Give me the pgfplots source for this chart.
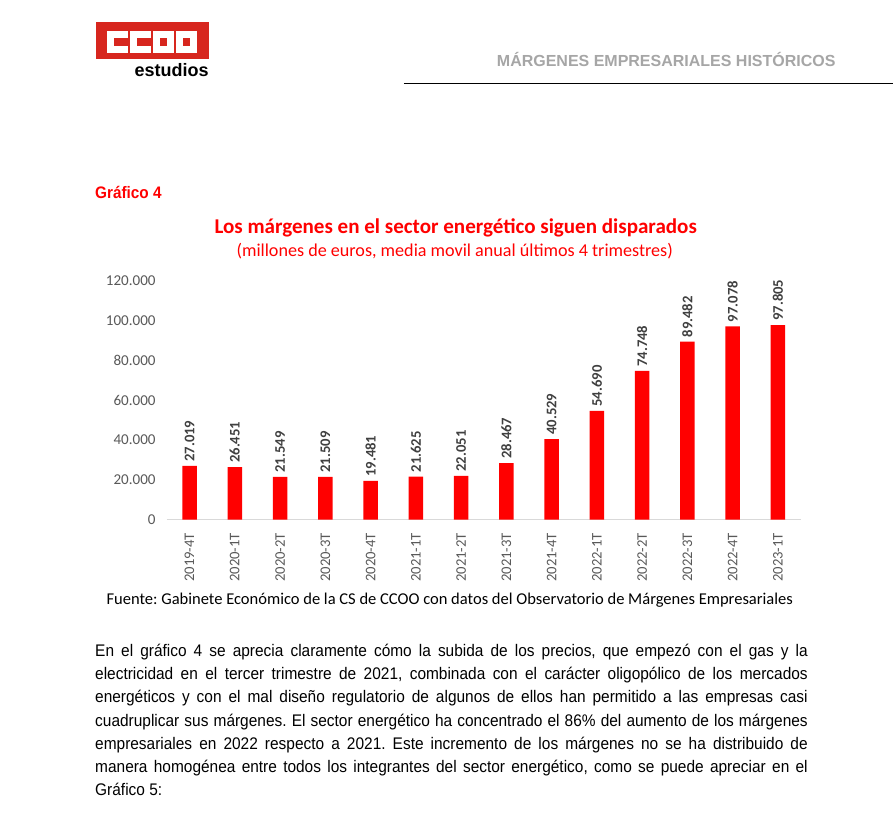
\documentclass[border=0pt]{standalone}
\usepackage{fontspec}
\setmainfont{Carlito}
\newfontfamily\arial{Liberation Sans}
\newfontfamily\arialn{Liberation Sans}[FakeStretch=0.92]
\usepackage{pgfplots}
\pgfplotsset{compat=1.18}
\frenchspacing
\definecolor{barred}{RGB}{255,0,0}
\definecolor{logored}{RGB}{215,38,30}
\definecolor{hdrgray}{RGB}{166,166,166}
\definecolor{tickgray}{RGB}{89,89,89}
\definecolor{lblgray}{RGB}{64,64,64}
\definecolor{axgray}{RGB}{217,217,217}
\newcommand{\pline}[2]{\node[anchor=base west, inner sep=0pt] at (95,#1) {\makebox[534.75pt][s]{#2}};}
\begin{document}
\begin{tikzpicture}
\begin{scope}[x=0.75pt,y=-0.75pt]
\fill[white] (0,0) rectangle (894,813);
% logo
\fill[logored] (96,22) rectangle (209,59);
\foreach \xo in {107,130}{
  \fill[white] (\xo,31) rectangle (\xo+21,53);
  \fill[logored] (\xo+7,38) rectangle (\xo+21,46);
}
\foreach \xo in {153,176}{
  \fill[white] (\xo,31) rectangle (\xo+21,53);
  \fill[logored] (\xo+7,38) rectangle (\xo+14,46);
}
\node[anchor=base east, inner sep=0pt, font=\arial\bfseries\fontsize{13.5}{16}\selectfont] at (209,77) {estudios};
% header
\node[anchor=base west, inner sep=0pt, text=hdrgray, font=\arial\bfseries\fontsize{12}{14}\selectfont] at (497,67) {MÁRGENES EMPRESARIALES HISTÓRICOS};
\draw[black, line width=0.8pt] (404,84) -- (894,84);
% chart captions
\node[anchor=base west, inner sep=0pt, text=red, font=\arialn\bfseries\fontsize{12.5}{15}\selectfont] at (95,199) {Gráfico 4};
\node[text=red, inner sep=0pt, font=\bfseries\fontsize{15.8}{19}\selectfont] at (456,228) {Los márgenes en el sector energético siguen disparados};
\node[text=red, inner sep=0pt, font=\fontsize{13.6}{16}\selectfont] at (455,251) {(millones de euros, media movil anual últimos 4 trimestres)};
\node[text=black, inner sep=0pt, font=\fontsize{12.4}{15}\selectfont] at (450,601) {Fuente: Gabinete Económico de la CS de CCOO con datos del Observatorio de Márgenes Empresariales};
% paragraph
\begingroup
\arialn\fontsize{12.6}{15}\selectfont
\pline{657}{En el gráfico 4 se aprecia claramente cómo la subida de los precios, que empezó con el gas y la}
\pline{680.2}{electricidad en el tercer trimestre de 2021, combinada con el carácter oligopólico de los mercados}
\pline{703.4}{energéticos y con el mal diseño regulatorio de algunos de ellos han permitido a las empresas casi}
\pline{726.6}{cuadruplicar sus márgenes. El sector energético ha concentrado el 86\% del aumento de los márgenes}
\pline{749.8}{empresariales en 2022 respecto a 2021. Este incremento de los márgenes no se ha distribuido de}
\pline{773}{manera homogénea entre todos los integrantes del sector energético, como se puede apreciar en el}
\node[anchor=base west, inner sep=0pt] at (95,796.2) {Gráfico 5:};
\endgroup
\end{scope}
\begin{axis}[
  at={(125.25pt,-390pt)}, anchor=south west,
  scale only axis, width=475.5pt, height=179.25pt,
  xmin=-0.5, xmax=13.5, ymin=0, ymax=120000,
  clip=false, ybar, bar width=10.9pt,
  axis lines=left, axis line style={-},
  y axis line style={draw=none},
  x axis line style={draw=axgray, line width=0.8pt},
  tick style={draw=none}, major tick length=0pt,
  ytick={0,20000,40000,60000,80000,100000,120000},
  scaled y ticks=false,
  /pgf/number format/.cd, fixed, 1000 sep={.}, assume math mode=true, /pgfplots/.cd,
  xtick={0,...,13},
  xticklabels={2019-4T,2020-1T,2020-2T,2020-3T,2020-4T,2021-1T,2021-2T,2021-3T,2021-4T,2022-1T,2022-2T,2022-3T,2022-4T,2023-1T},
  yticklabel style={font=\fontsize{11.3}{13}\selectfont, text=tickgray, xshift=-5pt},
  xticklabel style={rotate=90, anchor=east, font=\fontsize{11}{13}\selectfont, text=tickgray, xshift=-6.5pt},
  nodes near coords,
  every node near coord/.append style={rotate=90, anchor=west, inner sep=3pt, font=\bfseries\fontsize{11}{13}\selectfont, text=lblgray},
]
\addplot[fill=barred, draw=none] coordinates {
(0,27019) (1,26451) (2,21549) (3,21509) (4,19481) (5,21625) (6,22051)
(7,28467) (8,40529) (9,54690) (10,74748) (11,89482) (12,97078) (13,97805)};
\end{axis}
\path[use as bounding box] (0,0) rectangle (670.5pt,-609.75pt);
\end{tikzpicture}
\end{document}
